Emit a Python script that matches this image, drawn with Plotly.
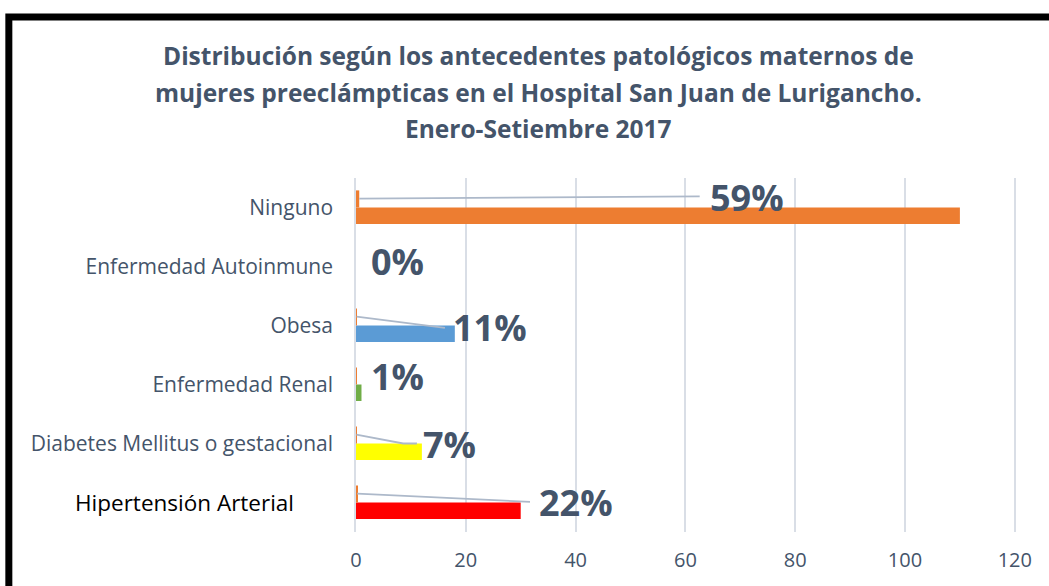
import plotly.graph_objects as go

# ---- data (bottom to top) ----
categories = ["Hipertensión Arterial", "Diabetes Mellitus o gestacional", "Enfermedad Renal",
              "Obesa", "Enfermedad Autoinmune", "Ninguno"]
counts = [30, 12, 1, 18, 0, 110]
percents = [0.22, 0.07, 0.01, 0.11, 0.00, 0.59]
pct_labels = ["22%", "7%", "1%", "11%", "0%", "59%"]
x_ticks = [0, 20, 40, 60, 80, 100, 120]
title_lines = ["Distribución según los antecedentes patológicos maternos de",
               "mujeres preeclámpticas en el Hospital San Juan de Lurigancho.",
               "Enero-Setiembre 2017"]

# ---- styling / layout positions ----
bar_colors = ["#FF0000", "#FFFF00", "#70AD47", "#5B9BD5", "#A5A5A5", "#ED7D31"]
pct_color = "#ED7D31"
text_color = "#44546A"
grid_color = "#D9DEE6"
leader_color = "#ADB9CA"
# moved data-label positions (x in axis units, y offset from row centre)
label_pos = [(40.1, 0.0), (17.1, -0.01), (7.5, 0.13), (24.4, -0.04), (7.6, 0.08), (71.2, 0.17)]
# leader-line bend/end points (x in axis units, y offset from row centre)
leader_pts = [[(31.7, 0.01)], [(8.6, 0.0), (11.1, 0.0)], None, [(16.2, -0.04)], None, [(62.6, 0.19)]]

ypos = list(range(len(categories)))

# plot-area geometry (pixels)
L, T, B = 356, 178, 54
x_max = 120.4                       # a little beyond the last tick so its gridline is drawn
plot_w = 658.5 * x_max / 120.0
R = 1049 - L - plot_w
plot_h = 586 - T - B

def px_x(px):
    return (px - L) / plot_w

def px_y(py):
    return (586 - B - py) / plot_h

fig = go.Figure()
fig.add_trace(go.Bar(y=ypos, x=counts, orientation="h", marker=dict(color=bar_colors, line=dict(width=0)),
                     width=0.28, offset=-0.28, showlegend=False, hoverinfo="x+y"))
fig.add_trace(go.Bar(y=ypos, x=percents, orientation="h", marker=dict(color=pct_color, line=dict(width=0)),
                     width=0.29, offset=0.0, showlegend=False))

for i, pts in enumerate(leader_pts):
    if not pts:
        continue
    path_pts = [(percents[i], ypos[i] + 0.15)] + [(px, ypos[i] + dy) for px, dy in pts]
    fig.add_trace(go.Scatter(x=[p[0] for p in path_pts], y=[p[1] for p in path_pts], mode="lines",
                             line=dict(color=leader_color, width=1.8), showlegend=False, hoverinfo="skip"))

annotations = []
for i, lab in enumerate(pct_labels):
    lx, dy = label_pos[i]
    annotations.append(dict(x=lx, y=ypos[i] + dy, xref="x", yref="y", text=f"<b>{lab}</b>",
                            showarrow=False, xanchor="center", yanchor="middle",
                            font=dict(family="Open Sans", size=36, color=text_color)))

# title lines
title_y = [55, 92.5, 128]
for t, py in zip(title_lines, title_y):
    annotations.append(dict(x=px_x(538), y=px_y(py), xref="paper", yref="paper",
                            text=f"<b>{t}</b>", showarrow=False, xanchor="center", yanchor="middle",
                            font=dict(family="Open Sans", size=24.5, color=text_color)))

# separately placed black category label
annotations.append(dict(x=px_x(185), y=ypos[0], xref="paper", yref="y", text=categories[0],
                        showarrow=False, xanchor="center", yanchor="middle",
                        font=dict(family="Open Sans", size=22.5, color="#000000")))

# black frame
shapes = [dict(type="rect", xref="paper", yref="paper",
               x0=px_x(9), x1=px_x(1070), y0=px_y(620), y1=px_y(17),
               line=dict(color="#000000", width=7), fillcolor="rgba(0,0,0,0)", layer="above")]

ticktext = [c if i != 0 else "" for i, c in enumerate(categories)]

fig.update_layout(
    width=1049, height=586,
    margin=dict(l=L, r=R, t=T, b=B, autoexpand=False),
    paper_bgcolor="white", plot_bgcolor="white",
    barmode="overlay",
    annotations=annotations, shapes=shapes,
    font=dict(family="Open Sans", color=text_color),
    xaxis=dict(range=[0, x_max], tickvals=x_ticks, showgrid=True, gridcolor=grid_color, gridwidth=1.5,
               zeroline=False, showline=False, ticks="", tickfont=dict(size=20, color=text_color),
               ticklabelstandoff=14, fixedrange=True),
    yaxis=dict(range=[-0.5, 5.5], tickvals=ypos, ticktext=ticktext, showgrid=False, zeroline=False,
               showline=True, linecolor=grid_color, linewidth=1.5, ticks="",
               tickfont=dict(size=21, color=text_color), ticklabelstandoff=17, fixedrange=True),
)

fig.write_html("out.html", config={"displayModeBar": False},
               post_script="document.body.style.margin='0';")
